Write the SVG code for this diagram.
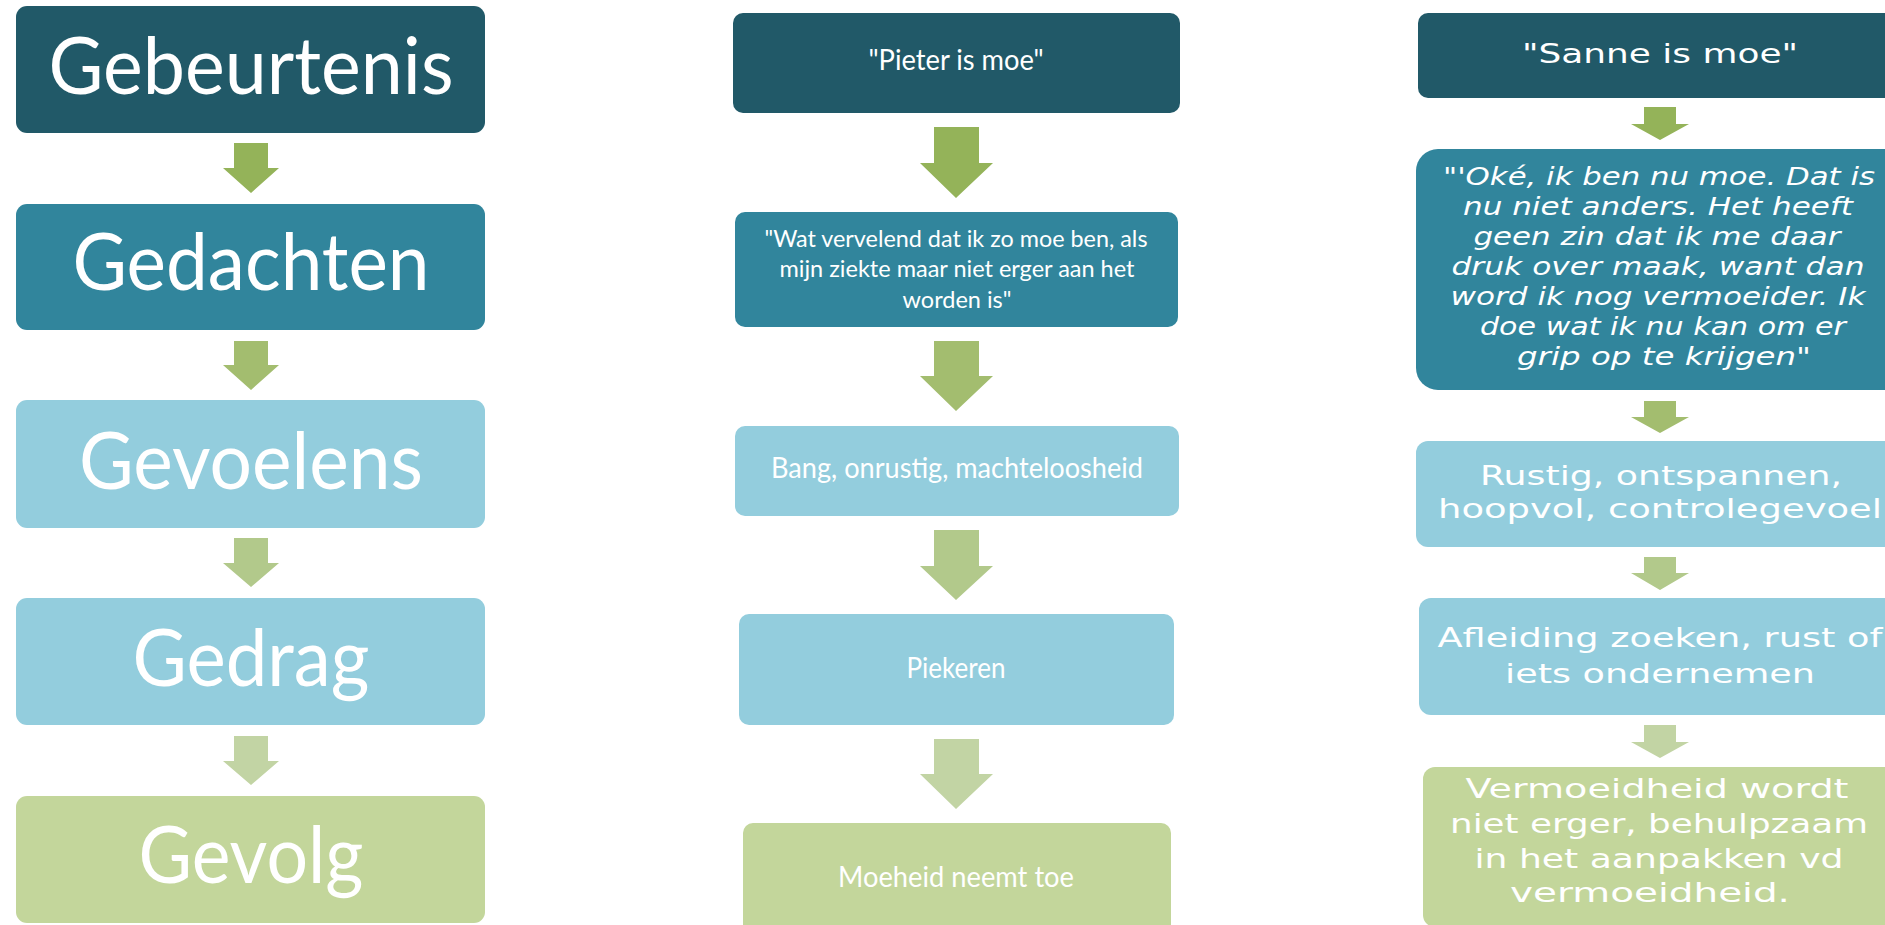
<svg xmlns="http://www.w3.org/2000/svg" width="1885" height="925" viewBox="0 0 1885 925">
  <style>
    .c1 { fill: #215968; }
    .c2 { fill: #31859C; }
    .c3 { fill: #93CDDD; }
    .c5 { fill: #C3D69B; }
    .a1 { fill: #94B359; }
    .a2 { fill: #A3BD6F; }
    .a3 { fill: #B2C98B; }
    .a4 { fill: #C2D4A4; }
    text { fill: #FFFFFF; text-anchor: middle; }
    .big { font-family: Lato, "Open Sans", sans-serif; font-size: 80px; }
    .mid { font-family: Lato, "Open Sans", sans-serif; font-size: 28px; }
    .mid2 { font-family: Lato, "Open Sans", sans-serif; font-size: 24px; }
    .rt { font-family: "DejaVu Sans", Verdana, sans-serif; font-size: 26px; }
    .rti { font-family: "DejaVu Sans", Verdana, sans-serif; font-size: 24px; font-style: italic; }
  </style>
  <rect width="1885" height="925" fill="#FFFFFF"/>

  <!-- arrows between the steps -->
  <g id="connectors">
    <!-- left column -->
    <polygon class="a1" points="234,143 268,143 268,168 279,168 251,193 223,168 234,168"/>
    <polygon class="a2" points="234,341 268,341 268,365 279,365 251,390 223,365 234,365"/>
    <polygon class="a3" points="234,538 268,538 268,563 279,563 251,587 223,563 234,563"/>
    <polygon class="a4" points="234,736 268,736 268,761 279,761 251,785 223,761 234,761"/>
    <!-- middle column -->
    <polygon class="a1" points="934,127 979,127 979,163 993,163 956,198 920,163 934,163"/>
    <polygon class="a2" points="934,341 979,341 979,376 993,376 956,411 920,376 934,376"/>
    <polygon class="a3" points="934,530 979,530 979,566 993,566 956,600 920,566 934,566"/>
    <polygon class="a4" points="934,739 979,739 979,774 993,774 956,809 920,774 934,774"/>
    <!-- right column -->
    <polygon class="a1" points="1644,107 1676,107 1676,124 1689,124 1660,140 1631,124 1644,124"/>
    <polygon class="a2" points="1644,401 1676,401 1676,417 1689,417 1660,433 1631,417 1644,417"/>
    <polygon class="a3" points="1644,557 1676,557 1676,573 1689,573 1660,590 1631,573 1644,573"/>
    <polygon class="a4" points="1644,725 1676,725 1676,742 1689,742 1660,758 1631,742 1644,742"/>
  </g>

  <!-- left column: the five stages -->
  <g id="gebeurtenis">
    <rect class="c1" x="16" y="6" width="469" height="127" rx="11"/>
    <text class="big" x="251" y="94" textLength="405" lengthAdjust="spacingAndGlyphs">Gebeurtenis</text>
  </g>
  <g id="gedachten">
    <rect class="c2" x="16" y="204" width="469" height="126" rx="11"/>
    <text class="big" x="251" y="290" textLength="357" lengthAdjust="spacingAndGlyphs">Gedachten</text>
  </g>
  <g id="gevoelens">
    <rect class="c3" x="16" y="400" width="469" height="128" rx="11"/>
    <text class="big" x="251" y="489" textLength="344" lengthAdjust="spacingAndGlyphs">Gevoelens</text>
  </g>
  <g id="gedrag">
    <rect class="c3" x="16" y="598" width="469" height="127" rx="11"/>
    <text class="big" x="251" y="686" textLength="237" lengthAdjust="spacingAndGlyphs">Gedrag</text>
  </g>
  <g id="gevolg">
    <rect class="c5" x="16" y="796" width="469" height="127" rx="11"/>
    <text class="big" x="251" y="883" textLength="225" lengthAdjust="spacingAndGlyphs">Gevolg</text>
  </g>

  <!-- middle column: Pieter -->
  <g id="pieter-gebeurtenis">
    <rect class="c1" x="733" y="13" width="447" height="100" rx="10"/>
    <text class="mid" x="956" y="70" textLength="175" lengthAdjust="spacingAndGlyphs">"Pieter is moe"</text>
  </g>
  <g id="pieter-gedachten">
    <rect class="c2" x="735" y="212" width="443" height="115" rx="10"/>
    <text class="mid2" x="956" y="247" textLength="383" lengthAdjust="spacingAndGlyphs">"Wat vervelend dat ik zo moe ben, als</text>
    <text class="mid2" x="957" y="277" textLength="355" lengthAdjust="spacingAndGlyphs">mijn ziekte maar niet erger aan het</text>
    <text class="mid2" x="957" y="308" textLength="109" lengthAdjust="spacingAndGlyphs">worden is"</text>
  </g>
  <g id="pieter-gevoelens">
    <rect class="c3" x="735" y="426" width="444" height="90" rx="10"/>
    <text class="mid" x="957" y="478" textLength="372" lengthAdjust="spacingAndGlyphs">Bang, onrustig, machteloosheid</text>
  </g>
  <g id="pieter-gedrag">
    <rect class="c3" x="739" y="614" width="435" height="111" rx="10"/>
    <text class="mid" x="956" y="678" textLength="99" lengthAdjust="spacingAndGlyphs">Piekeren</text>
  </g>
  <g id="pieter-gevolg">
    <rect class="c5" x="743" y="823" width="428" height="112" rx="10"/>
    <text class="mid" x="956" y="887" textLength="236" lengthAdjust="spacingAndGlyphs">Moeheid neemt toe</text>
  </g>

  <!-- right column: Sanne -->
  <g id="sanne-gebeurtenis">
    <rect class="c1" x="1418" y="13" width="490" height="85" rx="10"/>
    <text class="rt" x="1660" y="63" textLength="276" lengthAdjust="spacingAndGlyphs">"Sanne is moe"</text>
  </g>
  <g id="sanne-gedachten">
    <rect class="c2" x="1416" y="149" width="492" height="241" rx="22"/>
    <text class="rti" x="1659" y="185" textLength="432" lengthAdjust="spacingAndGlyphs">"'Oké, ik ben nu moe. Dat is</text>
    <text class="rti" x="1658" y="215" textLength="390" lengthAdjust="spacingAndGlyphs">nu niet anders. Het heeft</text>
    <text class="rti" x="1657" y="245" textLength="367" lengthAdjust="spacingAndGlyphs">geen zin dat ik me daar</text>
    <text class="rti" x="1658" y="275" textLength="413" lengthAdjust="spacingAndGlyphs">druk over maak, want dan</text>
    <text class="rti" x="1658" y="305" textLength="415" lengthAdjust="spacingAndGlyphs">word ik nog vermoeider. Ik</text>
    <text class="rti" x="1663" y="335" textLength="366" lengthAdjust="spacingAndGlyphs">doe wat ik nu kan om er</text>
    <text class="rti" x="1664" y="365" textLength="294" lengthAdjust="spacingAndGlyphs">grip op te krijgen"</text>
  </g>
  <g id="sanne-gevoelens">
    <rect class="c3" x="1416" y="441" width="492" height="106" rx="12"/>
    <text class="rt" x="1661" y="485" textLength="362" lengthAdjust="spacingAndGlyphs">Rustig, ontspannen,</text>
    <text class="rt" x="1660" y="518" textLength="444" lengthAdjust="spacingAndGlyphs">hoopvol, controlegevoel</text>
  </g>
  <g id="sanne-gedrag">
    <rect class="c3" x="1419" y="598" width="489" height="117" rx="12"/>
    <text class="rt" x="1660" y="647" textLength="445" lengthAdjust="spacingAndGlyphs">Afleiding zoeken, rust of</text>
    <text class="rt" x="1660" y="683" textLength="310" lengthAdjust="spacingAndGlyphs">iets ondernemen</text>
  </g>
  <g id="sanne-gevolg">
    <rect class="c5" x="1423" y="767" width="485" height="160" rx="12"/>
    <text class="rt" x="1657" y="798" textLength="383" lengthAdjust="spacingAndGlyphs">Vermoeidheid wordt</text>
    <text class="rt" x="1659" y="833" textLength="418" lengthAdjust="spacingAndGlyphs">niet erger, behulpzaam</text>
    <text class="rt" x="1659" y="868" textLength="369" lengthAdjust="spacingAndGlyphs">in het aanpakken vd</text>
    <text class="rt" x="1650" y="902" textLength="280" lengthAdjust="spacingAndGlyphs">vermoeidheid.</text>
  </g>
</svg>
